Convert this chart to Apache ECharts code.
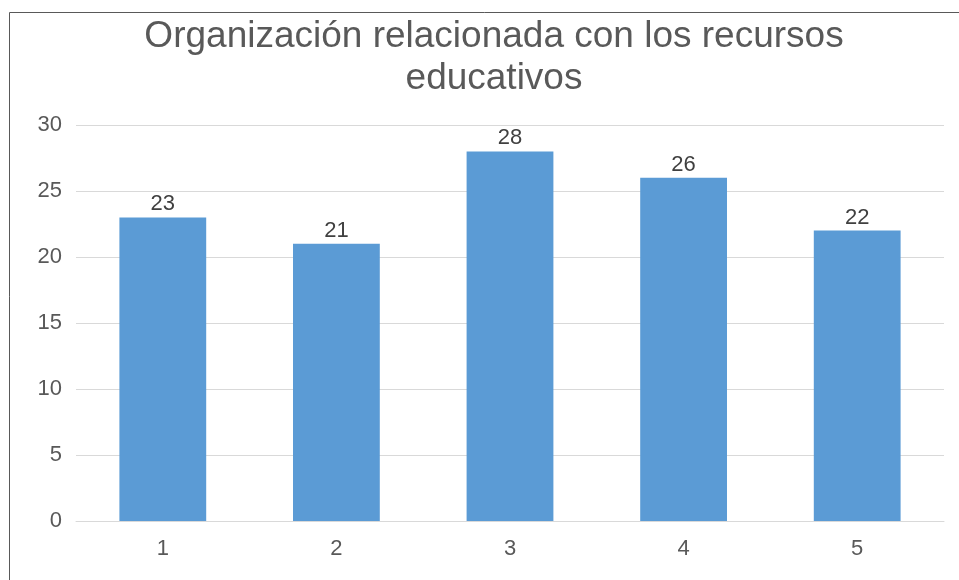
<!DOCTYPE html>
<html>
<head>
    <meta charset="utf-8">
    <title>Organización relacionada con los recursos educativos</title>
    <script src="https://cdn.jsdelivr.net/npm/echarts@6/dist/echarts.min.js"></script>
    <style type="text/css">
        html, body { margin: 0; padding: 0; background: #ffffff; }
        #chart { width: 959px; height: 580px; }
    </style>
</head>
<body>
<div id="chart"></div>
<script>
    // datos de la gráfica
    var categorias = ['1', '2', '3', '4', '5'];
    var valores = [23, 21, 28, 26, 22];
    var titulo = 'Organización relacionada con los recursos\neducativos';

    var chart = echarts.init(document.getElementById('chart'));
    var option = {
        animation: false,
        textStyle: {fontFamily: 'Liberation Sans, Arial, sans-serif'},
        graphic: [
            {
                type: 'rect',
                shape: {x: 9.5, y: 12.5, width: 1000, height: 1000},
                style: {fill: 'none', stroke: '#595959', lineWidth: 1},
                silent: true
            }
        ],
        title: {
            text: titulo,
            left: 489,
            textAlign: 'center',
            top: 11,
            textStyle: {
                fontSize: 37,
                fontWeight: 'normal',
                color: '#595959',
                lineHeight: 42
            }
        },
        grid: {left: 76, right: 15, top: 125, bottom: 59},
        xAxis: {
            type: 'category',
            data: categorias,
            axisLine: {show: true, lineStyle: {color: '#d9d9d9'}},
            axisTick: {show: false},
            axisLabel: {fontSize: 22, color: '#595959', margin: 17}
        },
        yAxis: {
            type: 'value',
            min: 0,
            max: 30,
            interval: 5,
            axisLine: {show: false},
            axisTick: {show: false},
            axisLabel: {fontSize: 22, color: '#595959', margin: 14},
            splitLine: {lineStyle: {color: '#d9d9d9', width: 1}}
        },
        series: [
            {
                type: 'bar',
                data: valores,
                barWidth: '50%',
                itemStyle: {color: '#5b9bd5'},
                label: {
                    show: true,
                    position: 'top',
                    distance: 2,
                    fontSize: 22,
                    color: '#404040'
                }
            }
        ]
    };
    chart.setOption(option);
</script>
</body>
</html>
